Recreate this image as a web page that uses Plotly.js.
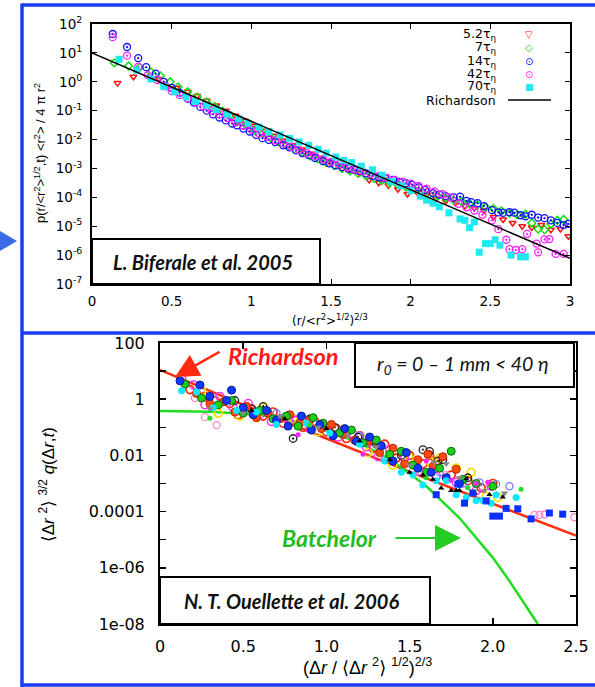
<!DOCTYPE html>
<html><head><meta charset="utf-8">
<script src="https://cdn.plot.ly/plotly-3.0.1.min.js"></script>
<style>html,body{margin:0;padding:0;background:#fff}#chart{width:595px;height:687px}</style>
</head><body><div id="chart"></div><script>
// ---------- TOP PANEL DATA (Biferale et al. 2005) ----------
const topLegend = ['5.2τ<sub>η</sub>','7τ<sub>η</sub>','14τ<sub>η</sub>','42τ<sub>η</sub>','70τ<sub>η</sub>','Richardson'];
const x52=[0.16,0.26,0.42,0.53,0.60,0.66,0.72,0.78,0.84,0.90,0.96,1.02,1.08,1.14,1.20,1.26,1.32,1.38,1.44,1.50,1.56,1.62,1.68,1.74,1.80,1.86,1.92,1.98,2.04,2.10,2.16,2.22,2.28,2.34,2.40,2.46,2.52,2.58,2.64,2.70,2.76,2.82,2.88,2.94,2.99];
const y52=[0.9,1.5,1.25,0.62,0.45,0.32,0.22,0.15,0.1,0.067,0.045,0.03,0.02,0.0135,0.0092,0.0065,0.0045,0.0032,0.0023,0.0017,0.00125,0.00092,0.0007,0.0004,0.00032,0.00026,0.00019,0.00013,0.00015,0.00012,9e-5,7.5e-5,6.5e-5,5.0e-5,4.3e-5,3.5e-5,2.1e-5,1.7e-5,1.3e-5,1.0e-5,9e-6,1.1e-5,7.5e-6,8e-6,4.5e-6];
const x7=[0.14,0.23,0.30,0.37,0.43,0.49,0.54,0.60,0.66,0.72,0.77,0.82,0.87,0.92,0.97,1.02,1.07,1.12,1.17,1.22,1.27,1.32,1.37,1.42,1.47,1.52,1.57,1.62,1.67,1.72,1.77,1.82,1.87,1.92,1.97,2.02,2.07,2.12,2.17,2.22,2.27,2.32,2.37,2.42,2.47,2.52,2.57,2.62,2.67,2.72,2.76,2.80,2.84,2.88,2.92,2.96];
const y7=[4.5,3.5,3.2,2.2,1.6,1.0,0.66,0.45,0.30,0.20,0.14,0.095,0.068,0.045,0.033,0.022,0.016,0.012,0.0085,0.0063,0.0047,0.0036,0.0027,0.0021,0.0016,0.00125,0.001,0.00082,0.00068,0.00056,0.00046,0.00038,0.00032,0.00027,0.00023,0.00019,0.00016,0.00013,0.00011,9.5e-5,8e-5,7.2e-5,6e-5,5.5e-5,4.6e-5,4e-5,3.4e-5,2.8e-5,2.5e-5,2.6e-5,1.3e-5,8e-6,7.5e-6,1.2e-5,1.6e-5,1.7e-5];
const x14=[0.13,0.22,0.29,0.34,0.40,0.45,0.50,0.55,0.60,0.64,0.68,0.72,0.76,0.80,0.84,0.88,0.91,0.95,0.99,1.03,1.07,1.11,1.15,1.20,1.24,1.28,1.32,1.36,1.40,1.45,1.49,1.53,1.57,1.61,1.65,1.68,1.72,1.76,1.80,1.84,1.89,1.93,1.97,2.01,2.05,2.09,2.14,2.18,2.22,2.27,2.31,2.35,2.38,2.42,2.46,2.51,2.55,2.58,2.62,2.65,2.69,2.72,2.76,2.80,2.84,2.88,2.92,2.96,2.99];
const y14=[45,16,6.6,3.2,1.9,1.0,0.62,0.42,0.26,0.19,0.135,0.10,0.075,0.058,0.046,0.036,0.031,0.024,0.019,0.0145,0.0112,0.0098,0.0082,0.0063,0.0054,0.0042,0.0034,0.0029,0.0023,0.0018,0.0015,0.00128,0.00112,0.00098,0.00088,0.00081,0.00068,0.00055,0.00049,0.00046,0.0004,0.00034,0.00031,0.00027,0.00022,0.00018,0.00014,0.000125,0.00011,0.0001,0.000105,7.5e-5,6.8e-5,6.3e-5,5e-5,3.6e-5,3e-5,2.9e-5,3.1e-5,2.95e-5,2.4e-5,2.2e-5,2.5e-5,2e-5,1.9e-5,1.6e-5,1.3e-5,1.1e-5,1.2e-5];
const x42=[0.13,0.22,0.29,0.35,0.41,0.46,0.50,0.55,0.60,0.65,0.70,0.75,0.80,0.85,0.90,0.95,1.00,1.05,1.10,1.15,1.20,1.25,1.30,1.35,1.40,1.45,1.50,1.55,1.60,1.65,1.70,1.75,1.80,1.85,1.90,1.95,2.00,2.05,2.10,2.15,2.20,2.25,2.30,2.35,2.40,2.45,2.51,2.55,2.60,2.62,2.66,2.70,2.73,2.79,2.80,2.84,2.87,2.91,2.96];
const y42=[35,8,3.3,1.7,1.15,0.7,0.48,0.35,0.27,0.19,0.14,0.1,0.075,0.055,0.04,0.03,0.022,0.016,0.0125,0.0095,0.0072,0.0056,0.0044,0.0034,0.0027,0.0021,0.0017,0.0014,0.0011,0.00092,0.00078,0.00065,0.00055,0.00047,0.0004,0.00035,0.0003,0.00025,0.0002,0.00016,0.00013,0.0001,6e-5,4.5e-5,3.5e-5,2.5e-5,1.6e-5,7.9e-6,3.4e-6,1.6e-6,1.5e-6,1.6e-6,5.4e-6,2.5e-6,1.25e-6,3.5e-6,3.6e-6,1.1e-6,1.1e-6];
const x70=[0.17,0.28,0.37,0.45,0.52,0.59,0.65,0.72,0.78,0.85,0.92,0.98,1.05,1.11,1.18,1.24,1.30,1.36,1.42,1.47,1.53,1.58,1.63,1.69,1.76,1.82,1.88,1.94,2.00,2.06,2.10,2.14,2.18,2.24,2.31,2.34,2.37,2.40,2.43,2.47,2.50,2.53,2.56,2.63,2.69,2.72];
const y70=[6,2.5,1.25,0.68,0.45,0.3,0.21,0.155,0.11,0.075,0.052,0.037,0.027,0.019,0.0145,0.011,0.0083,0.0063,0.0046,0.0034,0.0025,0.0019,0.0016,0.0012,0.0009,0.00058,0.00035,0.00025,0.00017,0.00011,8e-5,6.3e-5,4.7e-5,2.9e-5,1.8e-5,1.6e-5,8.9e-6,1.4e-5,1.26e-6,2.5e-6,2.5e-6,3.4e-6,2.2e-6,1e-6,8.7e-7,8.7e-7];
const xRichTop=[0,3];
const yRichTop=[10,7.8e-7];
const topXTicks=[0,0.5,1,1.5,2,2.5,3];
const topXText=['0','0.5','1','1.5','2','2.5','3'];
const topYTicks=[1e-7,1e-6,1e-5,1e-4,1e-3,1e-2,1e-1,1,10,100];
const topYText=['10<sup>-7</sup>','10<sup>-6</sup>','10<sup>-5</sup>','10<sup>-4</sup>','10<sup>-3</sup>','10<sup>-2</sup>','10<sup>-1</sup>','10<sup>0</sup>','10<sup>1</sup>','10<sup>2</sup>'];

// ---------- BOTTOM PANEL DATA (Ouellette et al. 2006) ----------
const xA=[0.18,0.27,0.33,0.42,0.47,0.55,0.62,0.68,0.74,0.80,0.86,0.93,1.00,1.06,1.12,1.20,1.28,1.35,1.42,1.50,1.58,1.62,1.66,1.75,1.85,1.93,2.00];
const yA=[2.2,1.26,0.9,0.7,0.28,0.45,0.25,0.35,0.14,0.2,0.1,0.16,0.07,0.09,0.04,0.05,0.018,0.025,0.008,0.01,0.005,0.01,0.0063,0.002,0.00126,7e-4,1e-3];
const xB=[0.22,0.30,0.38,0.45,0.52,0.58,0.65,0.72,0.78,0.84,0.90,0.97,1.03,1.10,1.17,1.25,1.32,1.40,1.47,1.55,1.61,1.64,1.70,1.78];
const yB=[1.6,0.7,0.8,0.35,0.56,0.22,0.32,0.2,0.28,0.14,0.18,0.09,0.126,0.056,0.035,0.032,0.0126,0.018,0.005,0.007,0.011,0.004,0.009,0.0032];
const xC=[0.15,0.25,0.35,0.43,0.50,0.60,0.68,0.76,0.83,0.92,0.98,1.08,1.15,1.22,1.30,1.38,1.45,1.52,1.60,1.68,1.75,1.82,1.90,2.00];
const yC=[3.5,1.1,0.63,0.9,0.32,0.4,0.2,0.25,0.11,0.22,0.14,0.063,0.08,0.028,0.035,0.011,0.014,0.0045,0.0025,0.0035,0.014,0.0014,0.001,8e-4];
const xD=[0.12,0.24,0.30,0.40,0.43,0.50,0.56,0.64,0.70,0.77,0.85,0.91,0.96,1.04,1.11,1.18,1.26,1.33,1.40,1.48,1.55,1.63,1.72,1.80];
const yD=[4.5,3.2,1.26,0.9,2.1,0.5,0.28,0.4,0.18,0.11,0.25,0.08,0.126,0.05,0.09,0.032,0.045,0.022,0.0063,0.0126,0.0035,0.0025,0.0016,0.001];
const xE=[0.13,0.20,0.27,0.36,0.44,0.53,0.60,0.67,0.75,0.82,0.90,0.99,1.07,1.16,1.24,1.31,1.38,1.47,1.56,1.66,1.78,1.90,1.99];
const yE=[5.6,3.2,0.63,1.26,0.5,0.7,0.28,0.16,0.22,0.18,0.09,0.11,0.045,0.056,0.02,0.009,0.016,0.008,0.0028,0.0018,0.0011,5.6e-4,8e-4];
const xE2=[0.83,1.22,1.60,1.75,1.90,1.97];
const yE2=[0.054,0.011,0.0063,0.0013,0.001,0.0011];
const xF=[0.13,0.22,0.32,0.46,0.58,0.70,0.88,1.02,1.20,1.35,1.45,1.52,1.58,1.66,1.72,1.78,1.84,1.90,1.94,1.99,2.02,2.14];
const yF=[2.0,1.8,0.5,0.4,0.35,0.126,0.14,0.063,0.025,0.0063,0.0025,0.002,8.9e-4,0.00126,0.00126,4e-4,3.2e-4,2.5e-4,2.5e-4,2e-4,4e-4,3.2e-4];
const xG=[0.25,0.35,0.48,0.62,0.80,0.95,1.10,1.25,1.40,1.50,1.62,1.68,1.78,1.87,1.96,2.03];
const yG=[2.0,0.32,0.25,0.5,0.2,0.07,0.063,0.0126,0.0045,0.008,0.0063,0.008,0.0035,0.0025,3.5e-4,3.2e-4];
const xH=[0.45,0.55,0.62,0.80,0.90,1.05,1.19,1.30,1.45,1.58,1.62,1.67,1.70,1.85];
const yH=[0.9,0.45,0.56,0.04,0.2,0.1,0.045,0.025,0.01,0.016,0.014,0.0063,0.007,0.0016];
const xI=[0.30,0.50,0.72,0.95,1.13,1.30,1.50,1.65,1.72,1.80,1.95,2.07];
const yI=[0.45,0.32,0.25,0.1,0.05,0.02,0.0045,0.0056,0.005,0.0016,5.6e-4,4.5e-4];
const xJ=[0.55,0.75,1.00,1.20,1.38,1.50,1.58,1.64,1.69,1.75,1.78,1.80,1.84,1.89,1.98,2.06];
const yJ=[0.4,0.2,0.09,0.032,0.007,0.0025,0.002,0.0014,6.9e-4,5.6e-4,5.6e-4,5.6e-4,0.00145,4.6e-4,4e-4,3.3e-4];
const xK=[1.66,1.79,1.83,1.88,1.96,2.00,2.04,2.08,2.15,2.23,2.34,2.42];
const yK=[4e-4,9.5e-4,2e-4,4.6e-4,2.4e-4,6.9e-5,6.9e-5,1.3e-4,1.26e-4,5.5e-5,8.9e-5,8.1e-5];
const xL=[0.21,0.27,0.34,1.55,1.72,2.25,2.28,2.31,2.49];
const yL=[1.1,0.23,0.12,0.0028,0.002,7.6e-5,7.6e-5,7.9e-5,6.3e-5];
const xM=[0.70,1.20,1.68,1.82,1.92,2.02,2.10];
const yM=[0.32,0.05,0.0025,0.001,0.0011,9.5e-4,8e-4];
const xN=[0.30,0.90,1.60,1.85,2.17];
const yN=[0.21,0.12,0.0016,7e-4,6.3e-4];
const xRichBot=[0,0.4,1.0,1.57,2.0,2.5];
const yRichBot=[11,1.12,0.04,1.8e-3,1.9e-4,1.4e-5];
const xBatch=[0,0.3,0.6,0.9,1.2,1.4,1.6,1.8,2.0,2.1,2.2,2.27];
const yBatch=[0.38,0.36,0.28,0.126,0.028,0.0062,8.1e-4,5.9e-5,2.3e-6,3.4e-7,4.3e-8,1e-8];
const botXTicks=[0,0.5,1,1.5,2,2.5];
const botXText=['0','0.5','1.0','1.5','2.0','2.5'];
const botYTicks=[1e-8,1e-7,1e-6,1e-5,1e-4,1e-3,1e-2,1e-1,1,10,100];
const botYText=['1e-08',' ','1e-06',' ','0.0001',' ','0.01',' ','1',' ','100'];

// ---------- LAYOUT HELPERS ----------
const W=595,H=687;
const fx=p=>p/W, fy=p=>1-p/H;
const TOP={l:92,r:570,t:24,b:284};
const BOT={l:160,r:576,t:343,b:624};

function mk(x,y,xa,ya,marker){return {type:'scatter',mode:'markers',x:x,y:y,xaxis:xa,yaxis:ya,marker:marker,showlegend:false,hoverinfo:'skip'};}
function ln(x,y,xa,ya,color,w){return {type:'scatter',mode:'lines',x:x,y:y,xaxis:xa,yaxis:ya,line:{color:color,width:w},showlegend:false,hoverinfo:'skip'};}

const traces=[
  mk(x52,y52,'x','y',{symbol:'triangle-down-open',size:6,color:'#ff1010',line:{width:1.5}}),
  mk(x7,y7,'x','y',{symbol:'diamond-open',size:6,color:'#10e010',line:{width:1.5}}),
  mk(x14,y14,'x','y',{symbol:'circle-open-dot',size:7,color:'#1010ff',line:{width:1.3}}),
  mk(x42,y42,'x','y',{symbol:'circle-open-dot',size:7,color:'#ff20ff',line:{width:1.3}}),
  mk(x70,y70,'x','y',{symbol:'square',size:7,color:'#20e8f0'}),
  ln(xRichTop,yRichTop,'x','y','#000',1.5),
  ln(xRichBot,yRichBot,'x2','y2','#ff3010',2.5),
  ln(xBatch,yBatch,'x2','y2','#22dd22',2.5),
  mk(xA,yA,'x2','y2',{symbol:'circle-open',size:8,color:'#ff2a00',line:{width:1.7}}),
  mk(xG,yG,'x2','y2',{symbol:'circle-open',size:8,color:'#f5e000',line:{width:1.7}}),
  mk(xE,yE,'x2','y2',{symbol:'circle-open',size:8,color:'#ff30ff',line:{width:1.5}}),
  mk(xM,yM,'x2','y2',{symbol:'circle-open',size:7,color:'#7777ff',line:{width:1.3}}),
  mk(xL,yL,'x2','y2',{symbol:'circle-open',size:7,color:'#ff88c8',line:{width:1.3}}),
  mk(xH,yH,'x2','y2',{symbol:'circle-open-dot',size:7.5,color:'#222',line:{width:1.3}}),
  mk(xB,yB,'x2','y2',{symbol:'circle',size:8,color:'#ff4a10',line:{color:'#c02000',width:1}}),
  mk(xC,yC,'x2','y2',{symbol:'circle',size:8,color:'#18d018',line:{color:'#0a6a0a',width:1}}),
  mk(xD,yD,'x2','y2',{symbol:'circle',size:8,color:'#1038ff',line:{color:'#001a99',width:1}}),
  mk(xF,yF,'x2','y2',{symbol:'circle',size:7,color:'#10e6ff'}),
  mk(xE2,yE2,'x2','y2',{symbol:'circle',size:5,color:'#ff22ff'}),
  mk(xN,yN,'x2','y2',{symbol:'circle',size:5,color:'#22dd22'}),
  mk(xI,yI,'x2','y2',{symbol:'triangle-down',size:6.5,color:'#888'}),
  mk(xJ,yJ,'x2','y2',{symbol:'triangle-up',size:5.5,color:'#000'}),
  mk(xK,yK,'x2','y2',{symbol:'square',size:7,color:'#0a2fff'})
];

const axCommon={showline:true,linewidth:2,linecolor:'#000',mirror:'ticks',ticks:'inside',tickcolor:'#000',showgrid:false,zeroline:false,fixedrange:true};
const layout={
  width:W,height:H,margin:{l:0,r:0,t:0,b:0},paper_bgcolor:'#fff',plot_bgcolor:'#fff',showlegend:false,
  xaxis:Object.assign({},axCommon,{domain:[fx(TOP.l),fx(TOP.r)],anchor:'y',range:[0,3],tickvals:topXTicks,ticktext:topXText,ticklen:5,tickwidth:1,ticklabelstandoff:4,tickfont:{family:'DejaVu Sans',size:13.5,color:'#000'}}),
  yaxis:Object.assign({},axCommon,{domain:[fy(TOP.b),fy(TOP.t)],anchor:'x',type:'log',range:[-7,2],tickvals:topYTicks,ticktext:topYText,ticklen:5,tickwidth:1,ticklabelstandoff:5,tickfont:{family:'DejaVu Sans',size:13.5,color:'#000'}}),
  xaxis2:Object.assign({},axCommon,{domain:[fx(BOT.l),fx(BOT.r)],anchor:'y2',range:[0,2.5],tickvals:botXTicks,ticktext:botXText,ticklen:6,tickwidth:1.5,ticklabelstandoff:7,tickfont:{family:'DejaVu Sans',size:16,color:'#000'}}),
  yaxis2:Object.assign({},axCommon,{domain:[fy(BOT.b),fy(BOT.t)],anchor:'x2',type:'log',range:[-8,2],tickvals:botYTicks,ticktext:botYText,ticklen:6,tickwidth:1.5,ticklabelstandoff:10,tickfont:{family:'DejaVu Sans',size:16,color:'#000'}}),
  shapes:[],annotations:[]
};

const S=layout.shapes, A=layout.annotations;
const BLUE='#1a3cf5';
function pline(x0,y0,x1,y1,color,w){S.push({type:'line',xref:'paper',yref:'paper',x0:fx(x0),y0:fy(y0),x1:fx(x1),y1:fy(y1),line:{color:color,width:w},layer:'above'});}
function prect(x0,y0,x1,y1){S.push({type:'rect',xref:'paper',yref:'paper',x0:fx(x0),y0:fy(y0),x1:fx(x1),y1:fy(y1),line:{color:'#000',width:2},fillcolor:'#fff',layer:'above'});}
function txt(x,y,text,font,opts){A.push(Object.assign({xref:'paper',yref:'paper',x:fx(x),y:fy(y),text:text,showarrow:false,font:font,xanchor:'center',yanchor:'middle'},opts||{}));}

// blue frames
pline(22,5,595,5,BLUE,3.5);
pline(22,333,595,333,BLUE,3.5);
pline(22,685,595,685,BLUE,3.5);
pline(22,3.5,22,687,BLUE,3.5);
S.push({type:'path',xref:'paper',yref:'paper',path:`M ${fx(0)} ${fy(231)} L ${fx(17)} ${fy(241)} L ${fx(0)} ${fy(251)} Z`,fillcolor:'#3b6ae8',line:{width:0},layer:'above'});

// top panel texts
prect(TOP.l,239,320,TOP.b);
txt(203,262,'<b><i>L. Biferale et al. 2005</i></b>',{family:'Lato',size:20,color:'#111'});
txt(40,153,'p(r/&lt;r<sup>2</sup>&gt;<sup>1/2</sup>,t) &lt;r<sup>2</sup>&gt; / 4 π r<sup>2</sup>',{family:'Liberation Sans',size:13,color:'#000'},{textangle:-90});
txt(330,320,'(r/&lt;r<sup>2</sup>&gt;<sup>1/2</sup>)<sup>2/3</sup>',{family:'DejaVu Sans',size:12,color:'#000'});
// top legend
const legY=[35,48,61,74,87,100];
const legSym=['▽','◇','⊙','⊙','■'];
const legCol=['#ff1010','#10d010','#1010ff','#ff20ff','#20e8f0'];
topLegend.forEach((t,i)=>{
  txt(498,legY[i],t,{family:'DejaVu Sans',size:12.5,color:'#000'},{xanchor:'right'});
  if(i<5) txt(529,legY[i],legSym[i],{family:'DejaVu Sans',size:i===4?9:10,color:legCol[i]});
});
pline(508,100,551,100,'#000',1.5);

// bottom panel texts
prect(355,343,574,387);
txt(463,365,'<i>r<sub>0</sub> = 0 – 1 mm &lt; 40 η</i>',{family:'Lato',size:19.5,color:'#111'});
prect(BOT.l,577,430,BOT.b);
txt(291,601,'<b><i>N. T. Ouellette et al. 2006</i></b>',{family:'Lato',size:20,color:'#111'});
txt(283,356,'<b><i>Richardson</i></b>',{family:'Lato',size:23.5,color:'#ff1a1a'});
txt(329,538,'<b><i>Batchelor</i></b>',{family:'Lato',size:23,color:'#22bb22'});
A.push({xref:'paper',yref:'paper',x:fx(175),y:fy(377),ax:46,ay:-26,text:'',showarrow:true,arrowhead:2,arrowsize:1.9,arrowwidth:2.5,arrowcolor:'#ff2a10'});
A.push({xref:'paper',yref:'paper',x:fx(461),y:fy(538),ax:-67,ay:0,text:'',showarrow:true,arrowhead:2,arrowsize:2.6,arrowwidth:2,arrowcolor:'#22cc22'});
txt(47,485,'⟨Δ<i>r</i> <sup>2</sup>⟩ <sup>3/2</sup> <i>q</i>(Δ<i>r</i>,<i>t</i>)',{family:'Liberation Sans, DejaVu Sans',size:17,color:'#000'},{textangle:-90});
txt(367,666,'(Δ<i>r</i> / ⟨Δ<i>r</i> <sup>2</sup>⟩ <sup>1/2</sup>)<sup>2/3</sup>',{family:'Liberation Sans, DejaVu Sans',size:18,color:'#000'});

Plotly.newPlot('chart',traces,layout,{staticPlot:true,displayModeBar:false});
</script></body></html>
